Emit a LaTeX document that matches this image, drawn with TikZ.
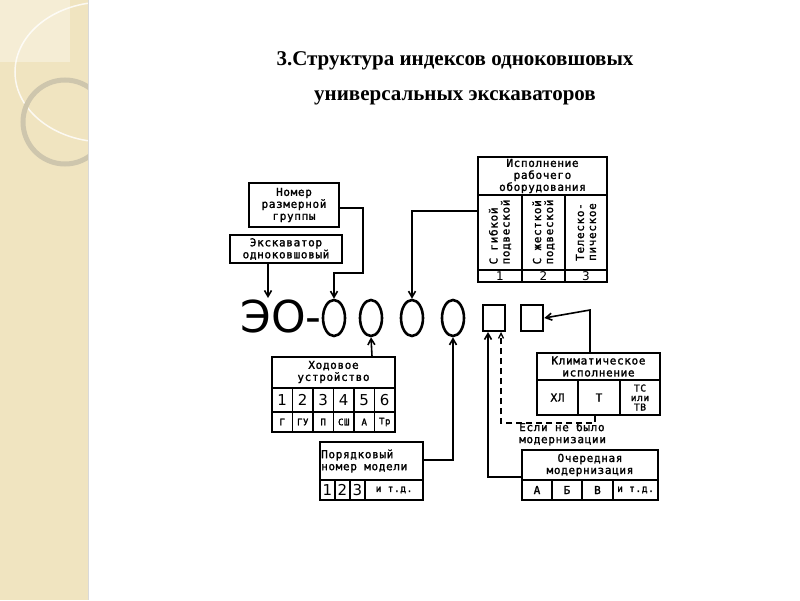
\documentclass[tikz,border=0pt]{standalone}
\usepackage{fontspec}
\setmainfont{Liberation Serif}
\newfontfamily\dm[LetterSpace=6,FakeBold=1.6]{DejaVu Sans Mono}
\newfontfamily\dsans{DejaVu Sans}
\usetikzlibrary{shapes.geometric,arrows.meta}
\definecolor{strip}{RGB}{240,228,192}
\begin{document}
\begin{tikzpicture}[x=1pt,y=-1pt,
  bx/.style={draw,line width=1.3pt,inner sep=0pt},
  tx/.style={font=\dm\fontsize{11}{12}\selectfont,align=center,inner sep=0pt},
  ln/.style={line width=1.3pt},
  ar/.style={line width=1.6pt,-{Straight Barb[length=6pt,width=7pt]}},
  dar/.style={line width=1.3pt,dashed,dash pattern=on 6pt off 4pt,-{Straight Barb[length=5pt,width=5pt]}},
  circ/.style={draw,ellipse,line width=2.6pt,minimum width=22pt,minimum height=36pt,inner sep=0pt},
  sq/.style={draw,line width=2.6pt,minimum width=22pt,minimum height=26pt,inner sep=0pt}]
\useasboundingbox (0,0) rectangle (800,600);
\fill[white] (0,0) rectangle (800,600);
\fill[strip] (0,0) rectangle (88,600);
\begin{scope}
\clip (0,0) rectangle (88,600);
\fill[white,opacity=0.35] (0,0) rectangle (70,62);
\draw[white,line width=1.5pt,opacity=0.8] (105,72) circle[x radius=90pt,y radius=70pt];
\draw[gray!30!strip,line width=5pt] (65,122) circle[radius=42pt];
\end{scope}
\draw[black!15,line width=1pt] (88,0) -- (88,600);
% title
\node[font=\bfseries\fontsize{21}{35}\selectfont,align=center] (title) at (455,78) {3.Структура индексов одноковшовых\\универсальных экскаваторов};
% main row
\node[font=\dsans\fontsize{44}{44}\selectfont,inner sep=0pt,anchor=east] (eo) at (322,316) {ЭО-};
\node[circ] (c1) at (334,318) {};
\node[circ] (c2) at (371,318) {};
\node[circ] (c3) at (412,318) {};
\node[circ] (c4) at (453,318) {};
\node[sq] (r1) at (494,318) {};
\node[sq] (r2) at (532,318) {};
% Номер размерной группы
\node[bx,tx,minimum width=90pt,minimum height=44pt] (nrg) at (294,205) {Номер\\размерной\\группы};
\node[bx,tx,minimum width=112pt,minimum height=28pt] (exc) at (286,249) {Экскаватор\\одноковшовый};
\draw[ar] (exc.south -| 268,0) -- (268,298);
\draw[ar] (nrg.east |- 0,208) -- (363,208) -- (363,273) -- (334,273) -- (c1.north);
% Исполнение
\node[bx,minimum width=129pt,minimum height=125pt] (isp) at (542.5,219.5) {};
\node[tx] (isph) at (542.5,176) {Исполнение\\рабочего\\оборудования};
\draw[ln] (478,195) -- (607,195);
\draw[ln] (478,270) -- (607,270);
\draw[ln] (522,195) -- (522,282);
\draw[ln] (565,195) -- (565,282);
\node[tx,rotate=90,align=left] (v1) at (500,232) {С гибкой\\подвеской};
\node[tx,rotate=90,align=left] (v2) at (543.5,232) {С жесткой\\подвеской};
\node[tx,rotate=90,align=left] (v3) at (586,232) {Телеско-\\пическое};
\node[font=\dsans\fontsize{12}{12}\selectfont] at (500,276) {1};
\node[font=\dsans\fontsize{12}{12}\selectfont] at (543.5,276) {2};
\node[font=\dsans\fontsize{12}{12}\selectfont] at (586,276) {3};
\draw[ar] (isp.west |- 0,211) -- (412,211) -- (c3.north);
% Ходовое устройство
\node[bx,minimum width=123pt,minimum height=75pt] (hod) at (333.5,394.5) {};
\node[tx] at (333.5,372) {Ходовое\\устройство};
\draw[ln] (272,388) -- (395,388);
\draw[ln] (272,412) -- (395,412);
\foreach \i in {1,...,5} \draw[ln] ({272+\i*20.5},388) -- ({272+\i*20.5},432);
\foreach \t [count=\i] in {1,2,3,4,5,6} \node[font=\dsans\fontsize{15}{15}\selectfont] at ({272+(\i-0.5)*20.5},400) {\t};
\foreach \t [count=\i] in {Г,ГУ,П,СШ,А,Тр} \node[font=\dm\fontsize{9}{9}\selectfont,inner sep=0pt] at ({272+(\i-0.5)*20.5},422) {\t};
\draw[ar] (hod.north -| 372,0) -- (c2.south);
% Порядковый номер модели
\node[bx,minimum width=103pt,minimum height=58pt] (por) at (371.5,471) {};
\node[tx,align=left,anchor=west] at (321,461) {Порядковый\\номер модели};
\draw[ln] (320,480) -- (423,480);
\foreach \x in {335,350,365} \draw[ln] (\x,480) -- (\x,500);
\foreach \t/\x in {1/327.5,2/342.5,3/357.5} \node[font=\dsans\fontsize{15}{15}\selectfont] at (\x,490) {\t};
\node[tx,font=\dm\fontsize{9.5}{10}\selectfont] at (394,490) {и т.д.};
\draw[ar] (por.east |- 0,460) -- (453,460) -- (c4.south);
% Климатическое исполнение
\node[bx,minimum width=123pt,minimum height=62pt] (kli) at (598.5,384) {};
\node[tx] at (598.5,366.5) {Климатическое\\исполнение};
\draw[ln] (537,380) -- (660,380);
\draw[ln] (578,380) -- (578,415);
\draw[ln] (620,380) -- (620,415);
\node[tx] at (557.5,397.5) {ХЛ};
\node[tx] at (599,397.5) {Т};
\node[tx,font=\dm\fontsize{9.5}{9.5}\selectfont] at (640,397.5) {ТС\\или\\ТВ};
\draw[ar] (kli.north -| 590,0) -- (590,310) -- (r2.east);
% dashed
\draw[dar] (kli.south -| 595,0) -- (595,423) -- (501,423) -- (501,332);
\node[tx,align=left,anchor=west] (esli) at (519,434) {Если не было\\модернизации};
% Очередная модернизация
\node[bx,minimum width=136pt,minimum height=50pt] (och) at (590,475) {};
\node[tx] at (590,465) {Очередная\\модернизация};
\draw[ln] (522,480) -- (658,480);
\foreach \x in {552,582,613} \draw[ln] (\x,480) -- (\x,500);
\node[tx] at (537,490) {А};
\node[tx] at (567,490) {Б};
\node[tx] at (597.5,490) {В};
\node[tx,font=\dm\fontsize{9.5}{10}\selectfont] at (635.5,490) {и т.д.};
\draw[ar] (och.west |- 0,477) -- (488,477) -- (488,332);
\end{tikzpicture}
\end{document}
